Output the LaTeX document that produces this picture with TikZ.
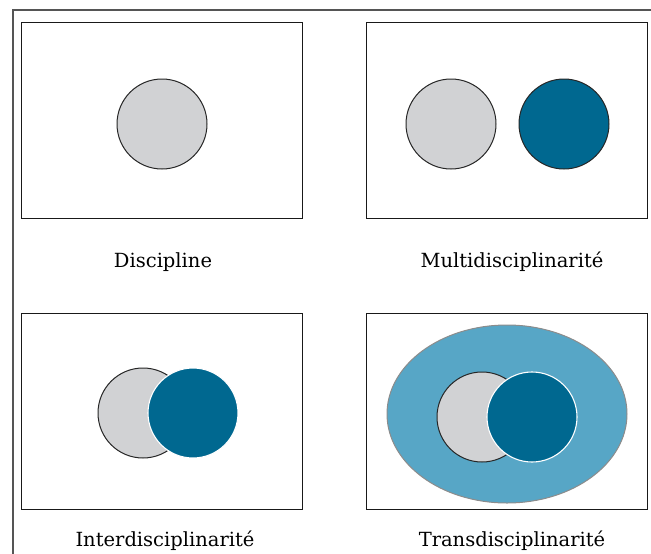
\documentclass[tikz,border=0pt]{standalone}
\usepackage{fontspec}
\setmainfont{DejaVu Serif}
\usetikzlibrary{shapes.geometric}
\definecolor{discgrey}{HTML}{D1D2D4}
\definecolor{darkblue}{HTML}{006890}
\definecolor{lightblue}{HTML}{57A6C6}
\definecolor{framegrey}{HTML}{555555}
\begin{document}
\begin{tikzpicture}[x=1pt,y=-1pt,
  panel/.style={draw=black!90,line width=1.3pt,inner sep=0pt,minimum width=281pt,minimum height=196pt,anchor=north west},
  greydisc/.style={circle,draw=black!85,line width=1pt,fill=discgrey,inner sep=0pt,minimum size=90pt},
  bluedisc/.style={circle,fill=darkblue,inner sep=0pt,minimum size=90pt},
  whiteedge/.style={draw=white,line width=1.1pt},
  blackedge/.style={draw=black!85,line width=1pt},
  caption/.style={anchor=base,font=\fontsize{19.5}{22}\selectfont,inner sep=0pt}]
\useasboundingbox (0,0) rectangle (651,554);
\coordinate (ftop) at (651,10);
\coordinate (fcorner) at (13,10);
\coordinate (fbottom) at (13,554);
\draw[framegrey,line width=1.5pt] (fbottom) -- (fcorner) -- (ftop);
% panels
\node[panel] (p1) at (21,22) {};
\node[panel] (p2) at (366,22) {};
\node[panel] (p3) at (21,313) {};
\node[panel] (p4) at (366,313) {};
% Discipline
\node[greydisc] (d1) at (162,124) {};
% Multidisciplinarite
\node[greydisc] (m1) at (451,124) {};
\node[bluedisc,blackedge] (m2) at (564,124) {};
% Interdisciplinarite
\node[greydisc] (i1) at (143,413) {};
\node[bluedisc,whiteedge] (i2) at (193,413) {};
% Transdisciplinarite
\node[ellipse,fill=lightblue,draw=black!45,line width=1pt,minimum width=240pt,minimum height=178pt,inner sep=0pt] (t0) at (507,414) {};
\node[greydisc] (t1) at (482,417) {};
\node[bluedisc,whiteedge] (t2) at (532,417) {};
% captions
\node[caption] (c1) at (163,267) {Discipline};
\node[caption] (c2) at (512,267) {Multidisciplinarité};
\node[caption] (c3) at (165,546) {Interdisciplinarité};
\node[caption] (c4) at (512,546) {Transdisciplinarité};
\end{tikzpicture}
\end{document}
